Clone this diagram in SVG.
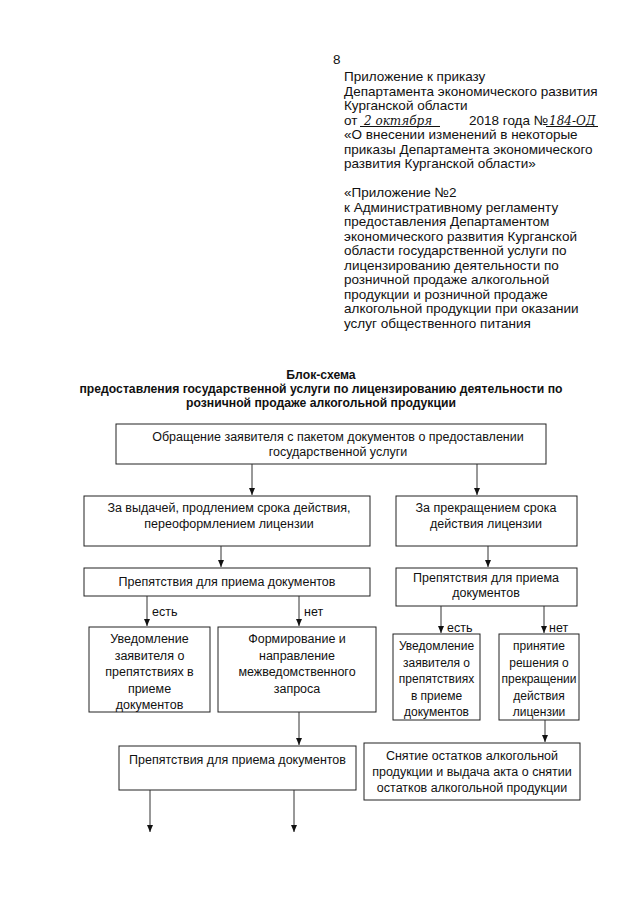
<svg xmlns="http://www.w3.org/2000/svg" width="640" height="905" viewBox="0 0 640 905">
<style>
text{font-family:"Liberation Sans",Arial,sans-serif;fill:#111}
.h{font-size:13.5px}
.t{font-size:12.2px;font-weight:bold;text-anchor:middle}
.b{font-size:12.5px;text-anchor:middle}
.s{font-size:12px;text-anchor:middle}
.l{font-size:12.5px}
.hw{font-family:"DejaVu Serif","Liberation Serif",serif;font-style:italic;font-size:12px}
rect{fill:#fff;stroke:#222;stroke-width:1}
.c line{stroke:#333;stroke-width:1}
.u{stroke:#111;stroke-width:1}
</style>
<defs>
<marker id="a" markerWidth="8" markerHeight="8" refX="7" refY="4" orient="auto" markerUnits="userSpaceOnUse">
<path d="M0,1 L7,4 L0,7 z" fill="#111"/>
</marker>
</defs>
<rect x="0" y="0" width="640" height="905" style="fill:#fff;stroke:none"/>
<g id="header">
<text class="h" x="333" y="64">8</text>
<text class="h" x="344" y="81">Приложение к приказу</text>
<text class="h" x="344" y="95.5">Департамента экономического развития</text>
<text class="h" x="344" y="110">Курганской области</text>
<text class="h" x="344" y="124.5">от</text>
<text class="hw" x="364" y="124.5">2 октября</text>
<line class="u" x1="360" y1="126.5" x2="440" y2="126.5"/>
<text class="h" x="469" y="124.5">2018 года №</text>
<text class="hw" x="549" y="124.5">184-ОД</text>
<line class="u" x1="546" y1="126.5" x2="598" y2="126.5"/>
<text class="h" x="344" y="139">«О внесении изменений в некоторые</text>
<text class="h" x="344" y="153.5">приказы Департамента экономического</text>
<text class="h" x="344" y="168">развития Курганской области»</text>
<text class="h" x="344" y="197">«Приложение №2</text>
<text class="h" x="344" y="211.5">к Административному регламенту</text>
<text class="h" x="344" y="226">предоставления Департаментом</text>
<text class="h" x="344" y="240.5">экономического развития Курганской</text>
<text class="h" x="344" y="255">области государственной услуги по</text>
<text class="h" x="344" y="269.5">лицензированию деятельности по</text>
<text class="h" x="344" y="284">розничной продаже алкогольной</text>
<text class="h" x="344" y="298.5">продукции и розничной продаже</text>
<text class="h" x="344" y="313">алкогольной продукции при оказании</text>
<text class="h" x="344" y="327.5">услуг общественного питания</text>
</g>
<g id="title">
<text class="t" x="321" y="379">Блок-схема</text>
<text class="t" x="321" y="393">предоставления государственной услуги по лицензированию деятельности по</text>
<text class="t" x="321" y="407">розничной продаже алкогольной продукции</text>
</g>
<g id="n1"><rect x="116" y="424" width="430" height="40"/>
<text class="b" x="338" y="441">Обращение заявителя с пакетом документов о предоставлении</text>
<text class="b" x="338" y="456">государственной услуги</text></g>
<g id="n2"><rect x="84" y="496" width="286" height="50"/>
<text class="b" x="229" y="512">За выдачей, продлением срока действия,</text>
<text class="b" x="229" y="528">переоформлением лицензии</text></g>
<g id="n3"><rect x="396" y="496" width="181" height="50"/>
<text class="b" x="486" y="512">За прекращением срока</text>
<text class="b" x="486" y="528">действия лицензии</text></g>
<g id="n4"><rect x="84" y="568" width="286" height="28"/>
<text class="b" x="227" y="586">Препятствия для приема документов</text></g>
<g id="n5"><rect x="396" y="568" width="181" height="38"/>
<text class="b" x="486" y="582">Препятствия для приема</text>
<text class="b" x="486" y="597">документов</text></g>
<g id="n6"><rect x="89" y="627" width="121" height="85"/>
<text class="b" x="149.5" y="643">Уведомление</text>
<text class="b" x="149.5" y="659.5">заявителя о</text>
<text class="b" x="149.5" y="676">препятствиях в</text>
<text class="b" x="149.5" y="692.5">приеме</text>
<text class="b" x="149.5" y="709">документов</text></g>
<g id="n7"><rect x="218" y="627" width="158" height="85"/>
<text class="b" x="297" y="643">Формирование и</text>
<text class="b" x="297" y="659.5">направление</text>
<text class="b" x="297" y="676">межведомственного</text>
<text class="b" x="297" y="692.5">запроса</text></g>
<g id="n8"><rect x="393" y="634" width="87" height="86"/>
<text class="s" x="436.5" y="650">Уведомление</text>
<text class="s" x="436.5" y="666.5">заявителя о</text>
<text class="s" x="436.5" y="683">препятствиях</text>
<text class="s" x="436.5" y="699.5">в приеме</text>
<text class="s" x="436.5" y="716">документов</text></g>
<g id="n9"><rect x="499" y="634" width="80" height="86"/>
<text class="s" x="539" y="650">принятие</text>
<text class="s" x="539" y="666.5">решения о</text>
<text class="s" x="539" y="683">прекращении</text>
<text class="s" x="539" y="699.5">действия</text>
<text class="s" x="539" y="716">лицензии</text></g>
<g id="n10"><rect x="119" y="746" width="237" height="44"/>
<text class="b" x="237.5" y="764">Препятствия для приема документов</text></g>
<g id="n11"><rect x="364" y="743" width="216" height="57"/>
<text class="b" x="472" y="760">Снятие остатков алкогольной</text>
<text class="b" x="472" y="776">продукции и выдача акта о снятии</text>
<text class="b" x="472" y="792">остатков алкогольной продукции</text></g>
<g id="connectors" class="c">
<line x1="252" y1="464" x2="252" y2="495" marker-end="url(#a)"/>
<line x1="477" y1="464" x2="477" y2="495" marker-end="url(#a)"/>
<line x1="221" y1="546" x2="221" y2="567" marker-end="url(#a)"/>
<line x1="488" y1="546" x2="488" y2="567" marker-end="url(#a)"/>
<line x1="147" y1="596" x2="147" y2="626" marker-end="url(#a)"/>
<line x1="299" y1="596" x2="299" y2="626" marker-end="url(#a)"/>
<line x1="299" y1="712" x2="299" y2="745" marker-end="url(#a)"/>
<line x1="441" y1="606" x2="441" y2="633" marker-end="url(#a)"/>
<line x1="544" y1="606" x2="544" y2="633" marker-end="url(#a)"/>
<line x1="545" y1="720" x2="545" y2="742" marker-end="url(#a)"/>
<line x1="150" y1="790" x2="150" y2="832" marker-end="url(#a)"/>
<line x1="294" y1="790" x2="294" y2="832" marker-end="url(#a)"/>
</g>
<g id="labels">
<text class="l" x="152" y="616">есть</text>
<text class="l" x="304" y="616">нет</text>
<text class="l" x="447" y="632">есть</text>
<text class="l" x="549" y="632">нет</text>
</g>
</svg>
